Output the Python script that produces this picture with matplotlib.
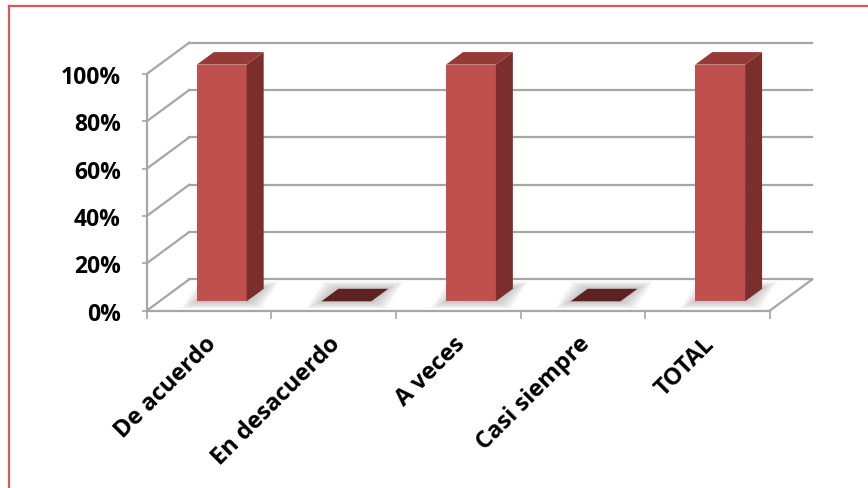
import matplotlib
matplotlib.use("Agg")
import matplotlib.pyplot as plt
import matplotlib.transforms as mtransforms
from matplotlib.patches import Polygon
from matplotlib.lines import Line2D

categories = ["De acuerdo", "En desacuerdo", "A veces", "Casi siempre", "TOTAL"]
percentages = [100, 0, 100, 0, 100]
y_ticks = [0, 20, 40, 60, 80, 100]
y_tick_labels = ["0%", "20%", "40%", "60%", "80%", "100%"]

W, H = 868, 489
FRONT = "#C0504D"
SIDE = "#7B2F2D"
TOP = "#953A37"
FLAT_TOP = "#5E2222"
GRID = "#A6A6A6"

# pixel scale of the front plane: one category and one percent
PX_X = 124.6
PX_Y = 2.367
# depth of the box, in data units
DX = 42.5 / PX_X
DY = 31.3 / PX_Y
# where the bars sit inside the depth, and how deep they are
D0 = 0.30
BD = 0.40
BAR_W = 0.40

XLIM = (-0.2, 5.45)
YLIM = (-4, 116)
X0_PX, Y0_PX = 146.7, 311.7

plt.rcParams["font.family"] = ["Open Sans", "DejaVu Sans"]
plt.rcParams["font.weight"] = "bold"

fig = plt.figure(figsize=(W / 100, H / 100), dpi=100)
left_px = X0_PX + XLIM[0] * PX_X
right_px = X0_PX + XLIM[1] * PX_X
top_px = Y0_PX - YLIM[1] * PX_Y
bottom_px = Y0_PX - YLIM[0] * PX_Y
ax = fig.add_axes([left_px / W, 1 - bottom_px / H,
                   (right_px - left_px) / W, (bottom_px - top_px) / H])
ax.set_xlim(*XLIM)
ax.set_ylim(*YLIM)
ax.patch.set_visible(False)

n = len(categories)

# walls: back gridlines, side wall diagonals and the floor edge
for v in y_ticks:
    ax.plot([0, DX], [v, v + DY], color=GRID, lw=1.6, zorder=1)
    ax.plot([DX, n + DX], [v + DY, v + DY], color=GRID, lw=1.6, zorder=1)
ax.plot([n, n + DX], [0, DY], color=GRID, lw=1.6, zorder=1)

# soft shadows under each bar
for i, v in enumerate(percentages):
    xl = i + 0.5 - BAR_W / 2 + D0 * DX
    xr = xl + BAR_W
    b = D0 * DY
    for k in range(1, 10):
        e = k * 1.7 / PX_X
        ey = k * 0.8 / PX_Y
        pts = [(xl - e, b - ey), (xr + e, b - ey),
               (xr + BD * DX + e, b + BD * DY + ey),
               (xl + BD * DX - e, b + BD * DY + ey)]
        ax.add_patch(Polygon(pts, closed=True, facecolor="#7a7a7a",
                             edgecolor="none", alpha=0.05, zorder=2))

# front faces
x_front = [i + 0.5 + D0 * DX for i in range(n)]
ax.bar(x_front, percentages, width=BAR_W, bottom=D0 * DY,
       color=FRONT, edgecolor="none", zorder=4)

# side and top faces of each bar
for i, v in enumerate(percentages):
    xl = x_front[i] - BAR_W / 2
    xr = x_front[i] + BAR_W / 2
    b = D0 * DY
    t = b + v
    if v > 0:
        side = [(xr, b), (xr + BD * DX, b + BD * DY),
                (xr + BD * DX, t + BD * DY), (xr, t)]
        ax.add_patch(Polygon(side, closed=True, facecolor=SIDE,
                             edgecolor="none", zorder=4))
    top = [(xl, t), (xr, t), (xr + BD * DX, t + BD * DY),
           (xl + BD * DX, t + BD * DY)]
    ax.add_patch(Polygon(top, closed=True,
                         facecolor=TOP if v > 0 else FLAT_TOP,
                         edgecolor="none", zorder=4))

# front axes
for name in ["top", "right"]:
    ax.spines[name].set_visible(False)
ax.spines["left"].set_position(("data", 0))
ax.spines["bottom"].set_position(("data", 0))
ax.spines["left"].set_bounds(0, 100)
ax.spines["bottom"].set_bounds(0, n)
for name in ["left", "bottom"]:
    ax.spines[name].set_color(GRID)
    ax.spines[name].set_linewidth(1.6)
    ax.spines[name].set_zorder(3)

ax.set_yticks(y_ticks)
ax.set_yticklabels(y_tick_labels)
ax.tick_params(axis="y", direction="out", length=3.6, width=1.2,
               color=GRID, pad=15, labelsize=16.5)

ax.set_xticks(range(n + 1))
ax.set_xticklabels([])
ax.set_xticks([i + 0.5 for i in range(n)], minor=True)
ax.set_xticklabels(categories, minor=True, rotation=45, ha="right",
                   rotation_mode="anchor", fontsize=17)
ax.tick_params(axis="x", which="major", direction="out", length=5.8,
               width=1.2, color=GRID)
ax.tick_params(axis="x", which="minor", length=0, pad=15)

# nudge the slanted labels a little to the left
shift = mtransforms.ScaledTranslation(-5 / 100, 0, fig.dpi_scale_trans)
for label in ax.get_xticklabels(minor=True):
    label.set_transform(label.get_transform() + shift)

# outer border
fig.add_artist(Line2D([8.5 / W, 1], [1 - 6.5 / H, 1 - 6.5 / H],
                      color="#D05A5A", lw=1.6))
fig.add_artist(Line2D([8.5 / W, 8.5 / W], [0, 1 - 6.5 / H],
                      color="#D05A5A", lw=1.6))

fig.savefig("out.png", dpi=100)
